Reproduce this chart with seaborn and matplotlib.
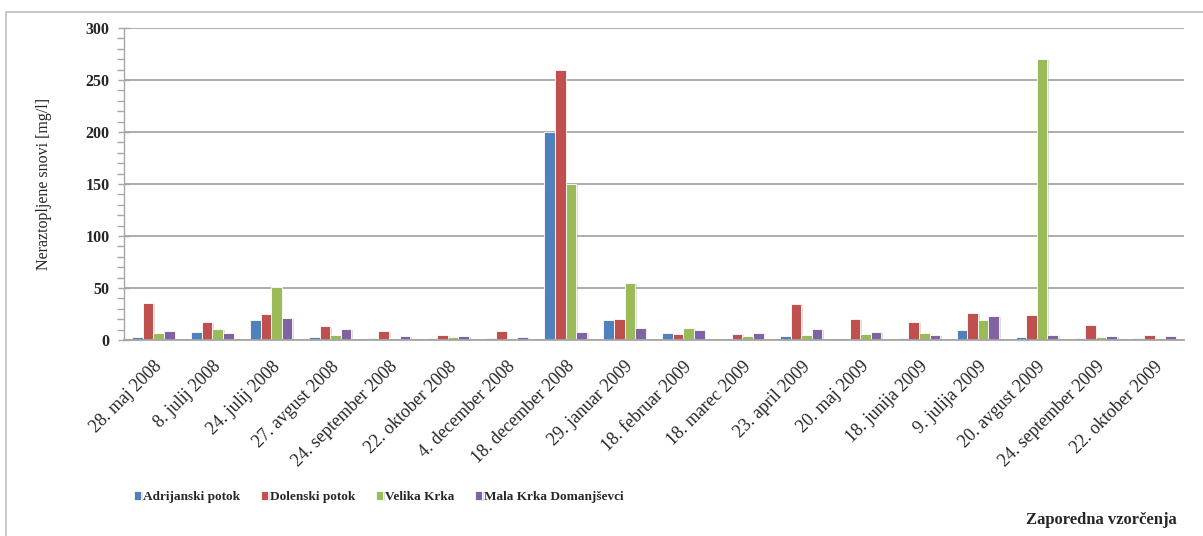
import matplotlib
matplotlib.use("Agg")
import matplotlib.pyplot as plt
import matplotlib.patheffects as pe
from matplotlib.patches import Rectangle
from matplotlib.ticker import MultipleLocator
import seaborn as sns
import pandas as pd

dates = ["28. maj 2008", "8. julij 2008", "24. julij 2008", "27. avgust 2008",
         "24. september 2008", "22. oktober 2008", "4. december 2008",
         "18. december 2008", "29. januar 2009", "18. februar 2009",
         "18. marec 2009", "23. april 2009", "20. maj 2009", "18. junija 2009",
         "9. julija 2009", "20. avgust 2009", "24. september 2009",
         "22. oktober 2009"]
series_names = ["Adrijanski potok", "Dolenski potok", "Velika Krka",
                "Mala Krka Domanjševci"]
adrijanski = [3, 8, 19, 3, 2, 2, 2, 200, 19, 7, 0, 4, 0, 2, 10, 3, 2, 2]
dolenski = [36, 17, 25, 13, 9, 5, 9, 260, 20, 6, 6, 35, 20, 17, 26, 24, 14, 5]
velika = [7, 11, 51, 5, 2, 3, 0, 150, 55, 12, 4, 5, 6, 7, 19, 270, 3, 2]
mala = [9, 7, 21, 11, 4, 4, 3, 8, 12, 10, 7, 11, 8, 5, 23, 5, 4, 4]
colors = ["#4F81BD", "#C0504D", "#9BBB59", "#8064A2"]

rows = []
for name, vals in zip(series_names, [adrijanski, dolenski, velika, mala]):
    for d, v in zip(dates, vals):
        rows.append({"date": d, "series": name, "value": v})
df = pd.DataFrame(rows)

sns.set_theme(style="white")
plt.rcParams["font.family"] = ["Liberation Serif", "DejaVu Serif"]

fig = plt.figure(figsize=(12.03, 5.36), dpi=100)
ax = fig.add_axes([124 / 1203, 1 - 340 / 536, (1184 - 124) / 1203, (340 - 28) / 536])

sns.barplot(data=df, x="date", y="value", hue="series", order=dates,
            hue_order=series_names, palette=colors, width=0.72, ax=ax,
            edgecolor="white", linewidth=0.6, saturation=1, legend=True)

for p in ax.patches:
    p.set_path_effects([pe.SimplePatchShadow(offset=(1.2, -0.8), shadow_rgbFace="#999999", alpha=0.35),
                        pe.Normal()])

ax.set_xlim(-0.5, len(dates) - 0.5)
ax.set_ylim(0, 300)
ax.yaxis.set_major_locator(MultipleLocator(50))
ax.yaxis.set_minor_locator(MultipleLocator(10))
ax.grid(axis="y", which="major", color="#A6A6A6", linewidth=1.3)
ax.set_axisbelow(True)
for s in ["top", "right"]:
    ax.spines[s].set_visible(False)
ax.spines["left"].set_color("#A6A6A6")
ax.spines["bottom"].set_color("#A6A6A6")
ax.spines["left"].set_linewidth(1.0)
ax.spines["bottom"].set_linewidth(1.3)

ax.tick_params(axis="y", which="major", direction="inout", length=9, width=1,
               color="#A6A6A6", left=True, pad=6)
ax.tick_params(axis="y", which="minor", direction="out", length=5, width=1,
               color="#A6A6A6", left=True)
ax.tick_params(axis="x", bottom=False, pad=7)
for lab in ax.get_yticklabels():
    lab.set_fontweight("bold")
    lab.set_fontsize(11.5)
ax.set_xticks(range(len(dates)))
ax.set_xticklabels(dates, rotation=45, ha="right", rotation_mode="anchor",
                   fontsize=13)
ax.set_xlabel("")
ax.set_ylabel("Neraztopljene snovi [mg/l]", fontsize=11.5, labelpad=24)

leg = ax.legend(loc="center left", bbox_to_anchor=(134 / 1203, 1 - 497 / 536),
                bbox_transform=fig.transFigure, ncol=4, frameon=False,
                handlelength=0.55, handleheight=0.6, handletextpad=0.15,
                columnspacing=1.55, borderaxespad=0, borderpad=0,
                prop={"family": "Liberation Serif", "weight": "bold", "size": 9.5})

fig.text(1177 / 1203, 1 - 520 / 536, "Zaporedna vzorčenja", ha="right",
         va="center", fontsize=12, fontweight="bold")

fig.patches.append(Rectangle((6 / 1203, -0.05), 1.1, 1 - 12 / 536 + 0.05,
                             transform=fig.transFigure, fill=False,
                             edgecolor="#BFBFBF", linewidth=1.2))

fig.savefig("out.png", dpi=100)
